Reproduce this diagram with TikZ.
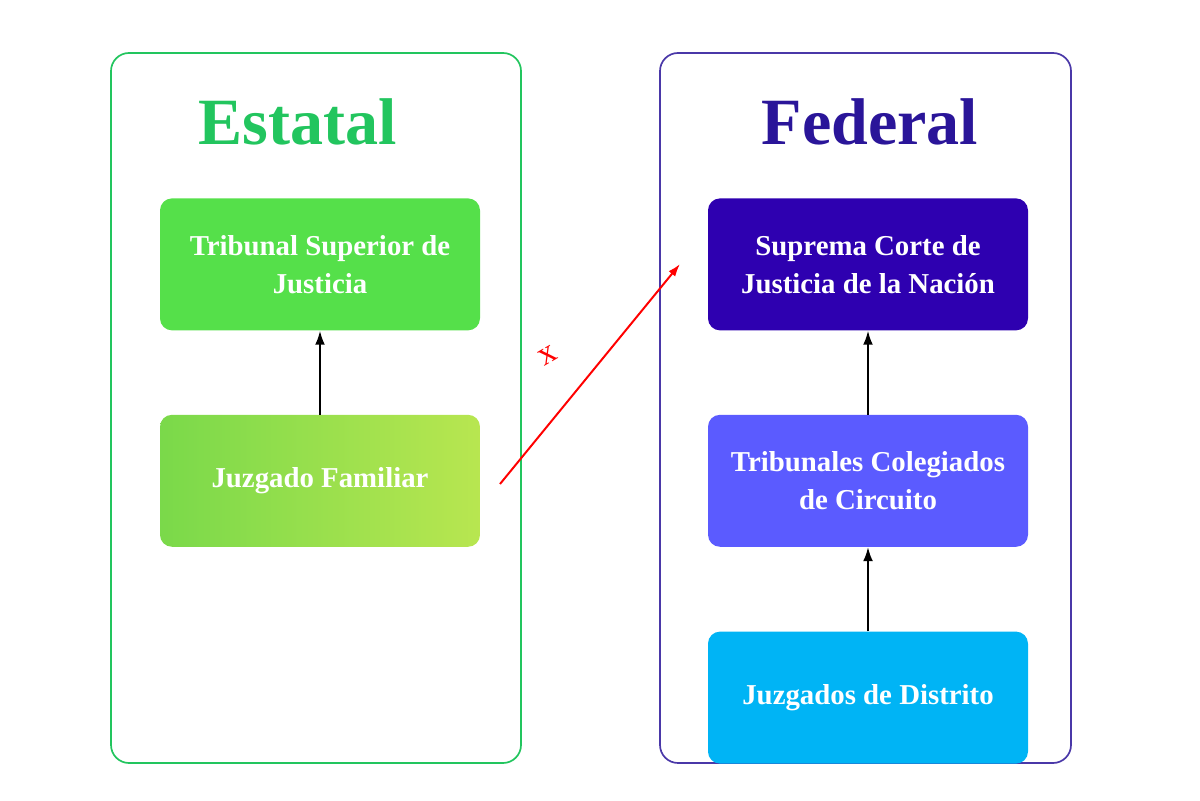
\documentclass[tikz,border=0pt]{standalone}
\usepackage{fontspec}
\setmainfont{Liberation Serif}
\usetikzlibrary{positioning,arrows.meta}
\definecolor{estgreen}{HTML}{22C55E}
\definecolor{fedblue}{HTML}{2A1599}
\definecolor{tsjgreen}{HTML}{55E04A}
\definecolor{jfleft}{HTML}{7AD94A}
\definecolor{jfright}{HTML}{B8E650}
\definecolor{scjn}{HTML}{2E00B0}
\definecolor{tcc}{HTML}{5B5BFF}
\definecolor{jdd}{HTML}{00B4F5}
\tikzset{
	panel/.style = {draw, line width=1.2pt, rounded corners=0.45cm},
	caja/.style = {rounded corners=0.3cm, minimum width=8cm, minimum height=3.3cm,
		text=white, font=\fontsize{20.5}{25}\selectfont\bfseries, align=center, inner sep=0pt},
	titulo/.style = {font=\fontsize{47}{50}\selectfont\bfseries},
	flecha/.style = {-{Latex[length=10pt,width=7pt]}, line width=1.4pt}
}
\begin{document}
\begin{tikzpicture}
	\useasboundingbox (0,0) rectangle (30,20);

	\draw[panel, estgreen] (2.775,0.925) rectangle (13.025,18.675);
	\draw[panel, fedblue!85] (16.5,0.925) rectangle (26.775,18.675);

	\node[titulo, text=estgreen] (estatal) at (7.45,16.95) {Estatal};
	\node[titulo, text=fedblue] (federal) at (21.75,16.95) {Federal};

	\node[caja, fill=tsjgreen] (tsj) at (8.0,13.39) {Tribunal Superior de\\[2pt]Justicia};
	\node[caja, left color=jfleft, right color=jfright] (jf) at (8.0,7.98) {Juzgado Familiar};

	\node[caja, fill=scjn] (scjn) at (21.7,13.39) {Suprema Corte de\\[2pt]Justicia de la Naci\'on};
	\node[caja, fill=tcc] (tcc) at (21.7,7.98) {Tribunales Colegiados\\[2pt]de Circuito};
	\node[caja, fill=jdd] (jdd) at (21.7,2.56) {Juzgados de Distrito};

	\draw[flecha] (jf) -- (tsj);
	\draw[flecha] (tcc) -- (scjn);
	\draw[flecha] (jdd) -- (tcc);

	\coordinate (salida) at (12.5,7.9);
	\coordinate (llegada) at (17.0,13.4);
	\draw[-{Latex[length=9pt,width=6pt]}, red, line width=1.4pt] (salida) -- (llegada);
	\node[red, font=\fontsize{24}{26}\selectfont, rotate=30] (cruz) at (13.7,11.1) {x};
\end{tikzpicture}
\end{document}
